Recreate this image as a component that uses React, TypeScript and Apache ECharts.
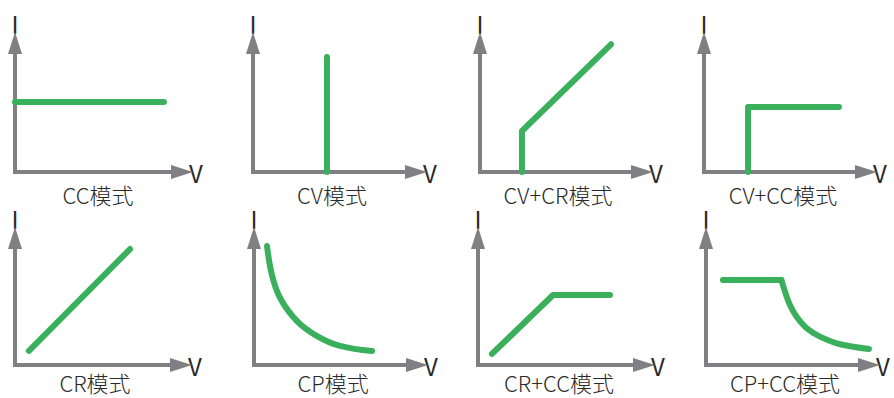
import React, { useEffect, useRef } from "react";
import * as echarts from "echarts";

// ---- Data (V, I in arbitrary units 0..10 of each small plot) ----
const titles = ["CC模式", "CV模式", "CV+CR模式", "CV+CC模式", "CR模式", "CP模式", "CR+CC模式", "CP+CC模式"];
const xName = "V";
const yName = "I";

const ccCurve = [[0, 5.43], [8.92, 5.43]];
const cvCurve = [[4.54, 0], [4.54, 8.91]];
const cvCrCurve = [[2.59, 0], [2.59, 3.18], [8.09, 9.9]];
const cvCcCurve = [[2.72, 0], [2.72, 5.04], [8.33, 5.04]];
const crCurve = [[0.84, 1.11], [6.93, 9.13]];
const cpCurve = [[0.8, 9.37], [1.1, 7.09], [1.6, 5.28], [2.64, 3.46], [3.87, 2.28], [5.28, 1.5], [7.24, 1.1]];
const crCcCurve = [[0.84, 0.87], [4.52, 5.51], [7.95, 5.51]];
const cpCcFlat = [[1.04, 6.7], [4.62, 6.7]];
const cpCcCurve = [[4.62, 6.7], [4.85, 5.77], [5.15, 4.72], [5.56, 3.8], [6.18, 2.89], [6.99, 2.23], [8.02, 1.71], [9.04, 1.44], [10.0, 1.26]];

// ---- Layout ----
const grids = [
  { left: 15, top: 43, width: 167, height: 129 },
  { left: 253, top: 43, width: 163, height: 129 },
  { left: 480, top: 43, width: 162, height: 129 },
  { left: 704, top: 43, width: 162, height: 129 },
  { left: 15, top: 238, width: 166, height: 127 },
  { left: 254, top: 238, width: 163, height: 127 },
  { left: 478, top: 238, width: 166, height: 127 },
  { left: 706, top: 238, width: 163, height: 127 },
];
const titlePos = [
  [98, 194], [332, 194], [558, 194], [783, 194],
  [95, 382], [333, 382], [559, 382], [785, 382],
];

const GREEN = "#3BB05C";
const GRAY = "#7F7F84";
const TEXT = "#2a2a2a";
const FONT = "'Noto Sans CJK SC', 'Noto Sans', sans-serif";

export default function App() {
  const ref = useRef<HTMLDivElement>(null);
  useEffect(() => {
    if (!ref.current) return;
    const chart = echarts.init(ref.current, undefined, { renderer: "svg" });
    const axisCommon = (i: number, name: string, gap: number) => ({
      gridIndex: i,
      type: "value",
      min: 0,
      max: 10,
      name,
      nameLocation: "end",
      nameGap: gap,
      nameTextStyle: { fontSize: 24, color: TEXT, fontFamily: FONT, fontWeight: "normal" },
      axisLine: {
        show: true,
        onZero: false,
        symbol: ["none", "triangle"],
        symbolSize: [14, 22],
        lineStyle: { color: GRAY, width: 4, cap: "square" },
      },
      axisTick: { show: false },
      axisLabel: { show: false },
      splitLine: { show: false },
    });
    const curves: { g: number; data: number[][]; smooth: number | false }[] = [
      { g: 0, data: ccCurve, smooth: false },
      { g: 1, data: cvCurve, smooth: false },
      { g: 2, data: cvCrCurve, smooth: false },
      { g: 3, data: cvCcCurve, smooth: false },
      { g: 4, data: crCurve, smooth: false },
      { g: 5, data: cpCurve, smooth: 0.4 },
      { g: 6, data: crCcCurve, smooth: false },
      { g: 7, data: cpCcFlat, smooth: false },
      { g: 7, data: cpCcCurve, smooth: 0.4 },
    ];
    chart.setOption({
      animation: false,
      backgroundColor: "#ffffff",
      grid: grids.map((g) => ({ ...g, containLabel: false })),
      xAxis: grids.map((_, i) => axisCommon(i, xName, 7)),
      yAxis: grids.map((_, i) => axisCommon(i, yName, 8)),
      series: curves.map((c) => ({
        type: "line",
        xAxisIndex: c.g,
        yAxisIndex: c.g,
        data: c.data,
        smooth: c.smooth,
        showSymbol: false,
        symbol: "none",
        lineStyle: { color: GREEN, width: 6, cap: "round", join: "round" },
        z: 5,
      })),
      graphic: titles.map((t, i) => ({
        type: "text",
        x: titlePos[i][0],
        y: titlePos[i][1],
        style: {
          text: t,
          fontSize: 22,
          fontFamily: FONT,
          fontWeight: 300,
          fill: TEXT,
          align: "center",
          verticalAlign: "middle",
        },
      })),
    });
    return () => chart.dispose();
  }, []);
  return (
    <div
      ref={ref}
      style={{ position: "absolute", left: 0, top: 0, width: 894, height: 398 }}
    />
  );
}
